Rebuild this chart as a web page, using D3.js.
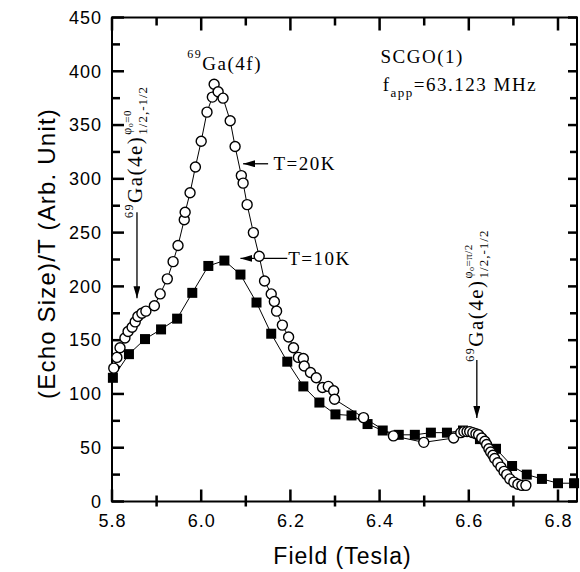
<!DOCTYPE html>
<html><head><meta charset="utf-8">
<script src="https://cdn.jsdelivr.net/npm/d3@7"></script>
<style>body{margin:0;background:#fff}</style>
</head><body>
<svg id="c" width="580" height="572"></svg>
<script>
// T = 10K (filled squares)
const field10K=[5.802,5.838,5.874,5.910,5.946,5.980,6.016,6.052,6.088,6.124,6.157,6.193,6.229,6.265,6.301,6.337,6.373,6.407,6.443,6.479,6.515,6.551,6.587,6.625,6.661,6.697,6.730,6.764,6.800,6.836];
const echo10K=[115,137,151,160,170,194,219,224,211,185,156,130,107,92,81,80,72,66,62,62,64,64,66,58,49,33,25,21,17,17];
// T = 20K (open circles)
const field20K=[5.804,5.811,5.818,5.829,5.836,5.845,5.852,5.858,5.867,5.876,5.895,5.908,5.924,5.937,5.948,5.962,5.964,5.975,5.987,6.000,6.013,6.025,6.029,6.038,6.049,6.065,6.076,6.090,6.094,6.103,6.117,6.130,6.142,6.157,6.164,6.169,6.182,6.196,6.207,6.218,6.229,6.231,6.245,6.258,6.272,6.285,6.297,6.299,6.364,6.431,6.499,6.566,6.582,6.589,6.596,6.602,6.609,6.616,6.622,6.629,6.636,6.640,6.645,6.649,6.654,6.658,6.665,6.672,6.679,6.685,6.692,6.701,6.710,6.719,6.728];
const echo20K=[124,134,143,152,158,162,167,172,175,177,182,193,207,223,238,262,269,287,311,335,362,376,388,381,375,354,330,303,296,276,250,228,205,193,186,177,164,153,143,134,133,126,120,115,106,107,103,95,78,61,55,59,64,65,65,65,64,63,62,59,56,53,49,46,43,40,36,32,28,25,21,18,16,15,15];

const xMajorTicks=[5.8,6.0,6.2,6.4,6.6,6.8];
const xTickLabels=["5.8","6.0","6.2","6.4","6.6","6.8"];
const xMinorTicks=[5.9,6.1,6.3,6.5,6.7];
const yMajorTicks=[0,50,100,150,200,250,300,350,400,450];
const yMinorTicks=[25,75,125,175,225,275,325,375,425];

const svg=d3.select("#c");
const L=112,R=577,T=17.5,B=501.5;
const x=d3.scaleLinear().domain([5.8,6.8426]).range([L,R]);
const y=d3.scaleLinear().domain([0,450]).range([B,T]);

const sans="'Liberation Sans', Arial, Helvetica, sans-serif";
const serif="'Liberation Serif', 'Times New Roman', serif";

// tick marks drawn as small filled rects placed with the scales
const tk=svg.append("g").attr("fill","#000");
function vt(cls,vals,y0,h){
  tk.selectAll("rect."+cls).data(vals).join("rect").attr("class",cls)
    .attr("x",d=>x(d)-1.25).attr("y",y0).attr("width",2.5).attr("height",h).attr("fill","#000");
}
function ht(cls,vals,x0,w){
  tk.selectAll("rect."+cls).data(vals).join("rect").attr("class",cls)
    .attr("y",d=>y(d)-1.25).attr("x",x0).attr("height",2.5).attr("width",w).attr("fill","#000");
}
vt("xb",xMajorTicks,B-12,12);
vt("xbm",xMinorTicks,B-6,11);
vt("xt",xMajorTicks,T,13);
vt("xtm",xMinorTicks,T,8);
ht("yl",yMajorTicks,L,12);
ht("ylm",yMinorTicks,L,8);
ht("yr",yMajorTicks,R-9,9);
ht("yrm",yMinorTicks,R-7,7);

// frame
svg.append("rect").attr("x",L).attr("y",T).attr("width",R-L).attr("height",B-T)
  .attr("fill","none").attr("stroke","#000").attr("stroke-width",2);

// tick labels via d3 axes
const gb=svg.append("g").attr("transform",`translate(0,${B})`)
  .call(d3.axisBottom(x).tickValues(xMajorTicks).tickFormat((d,i)=>xTickLabels[i]).tickSize(0).tickPadding(13));
const gl=svg.append("g").attr("transform",`translate(${L},0)`)
  .call(d3.axisLeft(y).tickValues(yMajorTicks).tickSize(0).tickPadding(10));
[gb,gl].forEach(g=>{
  g.select(".domain").remove();
  g.selectAll(".tick line").remove();
  g.selectAll(".tick text").attr("fill","#000").attr("font-family",sans).attr("font-size",18).attr("letter-spacing",1);
});

// axis titles
svg.append("text").attr("x",(L+R)/2-2).attr("y",564).attr("text-anchor","middle")
  .attr("font-family",sans).attr("font-size",23).attr("letter-spacing",1).text("Field (Tesla)");
svg.append("text").attr("transform",`translate(55,${(T+B)/2-6}) rotate(-90)`).attr("text-anchor","middle")
  .attr("font-family",sans).attr("font-size",24).attr("letter-spacing",1.2).text("(Echo Size)/T (Arb. Unit)");

// arrow marker
svg.append("defs").append("marker").attr("id","ah").attr("viewBox","0 0 12 7")
  .attr("refX",12).attr("refY",3.5).attr("markerWidth",12).attr("markerHeight",7)
  .attr("markerUnits","userSpaceOnUse").attr("orient","auto")
  .append("path").attr("d","M0,0L12,3.5L0,7Z").attr("fill","#000");

function arrow(f1,v1,f2,v2){
  svg.append("line").attr("x1",x(f1)).attr("y1",y(v1)).attr("x2",x(f2)).attr("y2",y(v2))
    .attr("stroke","#000").attr("stroke-width",1.3).attr("marker-end","url(#ah)");
}
arrow(6.150,314,6.094,314);
arrow(6.193,226,6.088,226);
arrow(5.856,269,5.856,189);
arrow(6.618,131.6,6.618,77.6);

// horizontal serif labels
function stext(f,v,parts){
  const t=svg.append("text").attr("x",x(f)).attr("y",y(v)).attr("font-family",serif).attr("letter-spacing",1.5);
  parts.forEach(p=>t.append("tspan").attr("font-size",p.s).attr("dy",p.dy||0).text(p.t));
  return t;
}
stext(5.969,401,[{t:"69",s:12,dy:-12},{t:"Ga(4f)",s:19,dy:12}]);
stext(6.402,407.7,[{t:"SCGO(1)",s:19}]);
stext(6.407,381.6,[{t:"f",s:19},{t:"app",s:13,dy:6},{t:"=63.123 MHz",s:19,dy:-6}]);
stext(6.162,308,[{t:"T=20K",s:19}]);
stext(6.195,220,[{t:"T=10K",s:19}]);

// vertical labels
function vtext(f,v,supPhi){
  const g=svg.append("g").attr("transform",`translate(${x(f)},${y(v)}) rotate(-90)`);
  const t=g.append("text").attr("font-family",serif).attr("letter-spacing",1.5);
  t.append("tspan").attr("font-size",12).attr("dy",-9).text("69");
  t.append("tspan").attr("font-size",21).attr("dy",9).text("Ga(4e)");
  const len=t.node().getComputedTextLength();
  const s=g.append("text").attr("x",len+1).attr("y",-11).attr("font-family",serif).attr("letter-spacing",0.5);
  s.append("tspan").attr("font-size",12).text("φ");
  s.append("tspan").attr("font-size",8).attr("dy",2).text("o");
  s.append("tspan").attr("font-size",11).attr("dy",-2).text(supPhi);
  g.append("text").attr("x",len+1).attr("y",5).attr("font-family",serif).attr("font-size",13).attr("letter-spacing",1).text("1/2,-1/2");
}
vtext(5.867,263.6,"=0");
vtext(6.631,130,"=π/2");

// series lines
const line=d3.line().x(d=>x(d[0])).y(d=>y(d[1]));
svg.append("path").datum(d3.zip(field10K,echo10K)).attr("d",line)
  .attr("fill","none").attr("stroke","#000").attr("stroke-width",1);
svg.append("path").datum(d3.zip(field20K,echo20K)).attr("d",line)
  .attr("fill","none").attr("stroke","#000").attr("stroke-width",1);

// squares
const sq=10;
svg.append("g").selectAll("rect").data(d3.zip(field10K,echo10K)).join("rect")
  .attr("x",d=>x(d[0])-sq/2).attr("y",d=>y(d[1])-sq/2).attr("width",sq).attr("height",sq)
  .attr("fill","#000");
// circles
svg.append("g").selectAll("circle").data(d3.zip(field20K,echo20K)).join("circle")
  .attr("cx",d=>x(d[0])).attr("cy",d=>y(d[1])).attr("r",5)
  .attr("fill","#fff").attr("stroke","#000").attr("stroke-width",1.4);
</script>
</body></html>
